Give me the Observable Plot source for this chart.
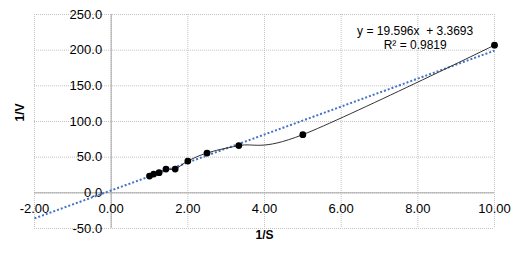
<!DOCTYPE html>
<html>
<head>
<meta charset="utf-8">
<script src="https://cdn.jsdelivr.net/npm/d3@7"></script>
<script src="https://cdn.jsdelivr.net/npm/@observablehq/plot@0.6"></script>
<style>
  html, body { margin: 0; padding: 0; background: #fff; }
</style>
</head>
<body>
<div id="chart"></div>
<script>
// Data
const invS = [1.0, 1.11, 1.25, 1.43, 1.67, 2.0, 2.5, 3.33, 5.0, 10.0];
const invV = [23.5, 26.3, 28.2, 33.3, 33.3, 44.5, 55.8, 66.2, 81.6, 207.0];

// Linear trendline shown on chart (Excel: y = 19.596x + 3.3693)
const trendSlope = 19.596;
const trendIntercept = 3.3693;
const trendX = [-2, 10];
const eqLabel = "y = 19.596x  + 3.3693";
const r2Label = "R² = 0.9819";

// Ticks
const xTicks = [-2, 0, 2, 4, 6, 8, 10];
const xTickLabels = ["-2.00", "0.00", "2.00", "4.00", "6.00", "8.00", "10.00"];
const yTicks = [-50, 0, 50, 100, 150, 200, 250];
const yTickLabels = ["-50.0", "0.0", "50.0", "100.0", "150.0", "200.0", "250.0"];

const points = invS.map((x, i) => ({x, y: invV[i]}));
const trend = trendX.map(x => ({x, y: trendSlope * x + trendIntercept}));

const gridColor = "#c4c4c4";
const axisColor = "#a6a6a6";

const chart = Plot.plot({
  width: 526,
  height: 262,
  marginLeft: 34,
  marginRight: 32,
  marginTop: 14,
  marginBottom: 34,
  x: {domain: [-2, 10], axis: null},
  y: {domain: [-50, 250], axis: null},
  style: {fontFamily: "'Liberation Sans', Arial, sans-serif", fontSize: "13px", background: "#fff", color: "#000"},
  marks: [
    Plot.gridX(xTicks, {stroke: gridColor, strokeOpacity: 1, strokeDasharray: "1,1"}),
    Plot.gridY(yTicks, {stroke: gridColor, strokeOpacity: 1, strokeDasharray: "1,1"}),
    Plot.ruleX([0], {stroke: axisColor, strokeWidth: 1}),
    Plot.ruleY([0], {stroke: axisColor, strokeWidth: 1}),
    Plot.text(yTicks, {x: 0, y: d => d, text: (d, i) => yTickLabels[i], textAnchor: "end", dx: -9, fontSize: 13, fill: "#000"}),
    Plot.text(xTicks, {x: d => d, y: 0, text: (d, i) => xTickLabels[i], dy: 16, fontSize: 13, fill: "#000"}),
    Plot.line(trend, {x: "x", y: "y", stroke: "#4472C4", strokeWidth: 2, strokeDasharray: "2,2", strokeLinecap: "butt"}),
    Plot.line(points, {x: "x", y: "y", curve: "cardinal", stroke: "#333", strokeWidth: 1}),
    Plot.dot(points, {x: "x", y: "y", r: 3.4, fill: "#000", stroke: "none"}),
    Plot.text([eqLabel], {x: 7.93, y: 226.7, text: d => d, fontSize: 12, fill: "#000"}),
    Plot.text([r2Label], {x: 7.93, y: 207.0, text: d => d, fontSize: 12, fill: "#000"}),
    Plot.text(["1/S"], {frameAnchor: "bottom", dy: 10, text: d => d, fontWeight: "bold", fontSize: 12, fill: "#000"}),
    Plot.text(["1/V"], {frameAnchor: "left", dx: -14, rotate: -90, text: d => d, fontWeight: "bold", fontSize: 12, fill: "#000"})
  ]
});
document.getElementById("chart").appendChild(chart);
</script>
</body>
</html>
